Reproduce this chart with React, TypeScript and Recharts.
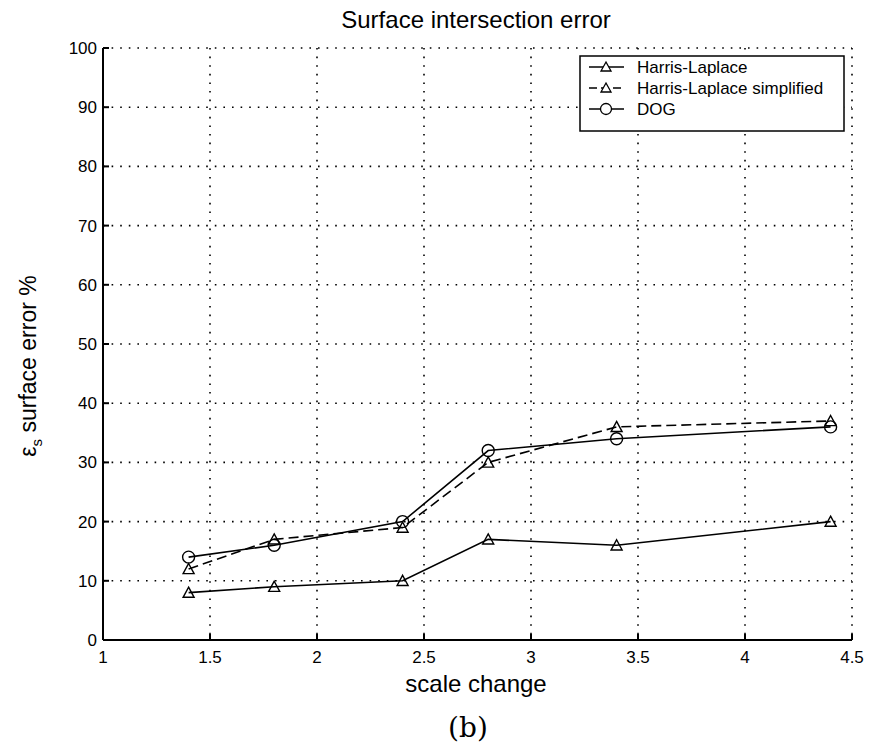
import React from 'react';
import { LineChart, Line, XAxis, YAxis, CartesianGrid, Legend } from 'recharts';

const scaleChange = [1.4, 1.8, 2.4, 2.8, 3.4, 4.4];
const harrisLaplace = [8, 9, 10, 17, 16, 20];
const harrisLaplaceSimplified = [12, 17, 19, 30, 36, 37];
const dogValues = [14, 16, 20, 32, 34, 36];
const xTicks = [1, 1.5, 2, 2.5, 3, 3.5, 4, 4.5];
const yTicks = [0, 10, 20, 30, 40, 50, 60, 70, 80, 90, 100];
const seriesNames = ['Harris-Laplace', 'Harris-Laplace simplified', 'DOG'];

const data = scaleChange.map((x, i) => ({
  x,
  hl: harrisLaplace[i],
  hls: harrisLaplaceSimplified[i],
  dog: dogValues[i],
}));

const FONT = '"Liberation Sans", Arial, Helvetica, sans-serif';

const Triangle = (props: any) => {
  const { cx, cy } = props;
  if (cx == null || cy == null) return null;
  const s = 5.5;
  return (
    <path
      d={`M${cx},${cy - s} L${cx + s},${cy + s * 0.85} L${cx - s},${cy + s * 0.85} Z`}
      fill="none"
      stroke="#000"
      strokeWidth={1.4}
    />
  );
};

const Circle = (props: any) => {
  const { cx, cy } = props;
  if (cx == null || cy == null) return null;
  return <circle cx={cx} cy={cy} r={6} fill="none" stroke="#000" strokeWidth={1.4} />;
};

const LegendBox = () => {
  const rows = [
    { name: seriesNames[0], dash: undefined, marker: 'tri' },
    { name: seriesNames[1], dash: '8 4', marker: 'tri' },
    { name: seriesNames[2], dash: undefined, marker: 'circ' },
  ];
  return (
    <svg width={266} height={77} style={{ display: 'block' }}>
      <rect x={1} y={1} width={264} height={75} fill="#fff" stroke="#000" strokeWidth={1.5} />
      {rows.map((r, i) => {
        const y = 12 + i * 21;
        return (
          <g key={r.name}>
            <line x1={10} x2={45} y1={y} y2={y} stroke="#000" strokeWidth={1.5} strokeDasharray={r.dash} />
            {r.marker === 'tri' ? (
              <path d={`M27,${y - 5} L32,${y + 4} L22,${y + 4} Z`} fill="#fff" stroke="#000" strokeWidth={1.3} />
            ) : (
              <circle cx={27} cy={y} r={5.5} fill="#fff" stroke="#000" strokeWidth={1.3} />
            )}
            <text x={58} y={y + 6} fontFamily={FONT} fontSize={17} fill="#000">
              {r.name}
            </text>
          </g>
        );
      })}
    </svg>
  );
};

const YLabel = () => {
  const x = 36;
  const y = 366;
  return (
    <text
      x={x}
      y={y}
      transform={`rotate(-90 ${x} ${y})`}
      textAnchor="middle"
      fontFamily={FONT}
      fontSize={23}
      fill="#000"
    >
      ε<tspan fontSize={15} dy={6}>s</tspan>
      <tspan dy={-6}> surface error %</tspan>
    </text>
  );
};

const XLabel = () => (
  <text x={476} y={692} textAnchor="middle" fontFamily={FONT} fontSize={24} fill="#000">
    scale change
  </text>
);

export default function App() {
  return (
    <div
      style={{
        position: 'absolute',
        left: 0,
        top: 0,
        width: 877,
        height: 745,
        background: '#fff',
        overflow: 'hidden',
      }}
    >
      <LineChart
        width={877}
        height={745}
        data={data}
        margin={{ top: 48, right: 25, bottom: 45, left: 0 }}
      >
        <CartesianGrid stroke="#000" strokeDasharray="1.6 7" strokeWidth={1.6} />
        <XAxis
          dataKey="x"
          type="number"
          domain={[1, 4.5]}
          ticks={xTicks}
          interval={0}
          height={60}
          stroke="#000"
          strokeWidth={2}
          tickSize={-6}
          tickMargin={17}
          tick={{ fill: '#000', fontSize: 17, fontFamily: FONT }}
          label={{ content: XLabel }}
        />
        <XAxis
          xAxisId="top"
          dataKey="x"
          type="number"
          domain={[1, 4.5]}
          ticks={xTicks}
          orientation="top"
          mirror
          height={0}
          tick={false}
          tickSize={6}
          stroke="#000"
          strokeWidth={2}
        />
        <YAxis
          type="number"
          domain={[0, 100]}
          ticks={yTicks}
          interval={0}
          width={103}
          stroke="#000"
          strokeWidth={2}
          tickSize={-6}
          tickMargin={12}
          tick={{ fill: '#000', fontSize: 17, fontFamily: FONT }}
          label={{ content: YLabel }}
        />
        <YAxis
          yAxisId="right"
          orientation="right"
          type="number"
          domain={[0, 100]}
          ticks={yTicks}
          mirror
          width={0}
          tick={false}
          tickSize={6}
          stroke="#000"
          strokeWidth={2}
        />
        <Legend
          layout="vertical"
          align="center"
          verticalAlign="middle"
          content={LegendBox}
          wrapperStyle={{ position: 'absolute', left: 579, top: 55, width: 266, height: 77, bottom: 'auto', right: 'auto' }}
        />
        <Line
          dataKey="hl"
          name={seriesNames[0]}
          stroke="#000"
          strokeWidth={1.6}
          dot={<Triangle />}
          activeDot={false}
          isAnimationActive={false}
        />
        <Line
          dataKey="hls"
          name={seriesNames[1]}
          stroke="#000"
          strokeWidth={1.6}
          strokeDasharray="10 5"
          dot={<Triangle />}
          activeDot={false}
          isAnimationActive={false}
        />
        <Line
          dataKey="dog"
          name={seriesNames[2]}
          stroke="#000"
          strokeWidth={1.6}
          dot={<Circle />}
          activeDot={false}
          isAnimationActive={false}
        />
      </LineChart>
      <svg
        width={877}
        height={745}
        style={{ position: 'absolute', left: 0, top: 0, pointerEvents: 'none' }}
      >
        <text x={476} y={28} textAnchor="middle" fontFamily={FONT} fontSize={24} fill="#000">
          Surface intersection error
        </text>
        <text
          x={468}
          y={737}
          textAnchor="middle"
          fontFamily='"DejaVu Serif", "Liberation Serif", serif'
          fontSize={28}
          fill="#000"
        >
          (b)
        </text>
      </svg>
    </div>
  );
}
